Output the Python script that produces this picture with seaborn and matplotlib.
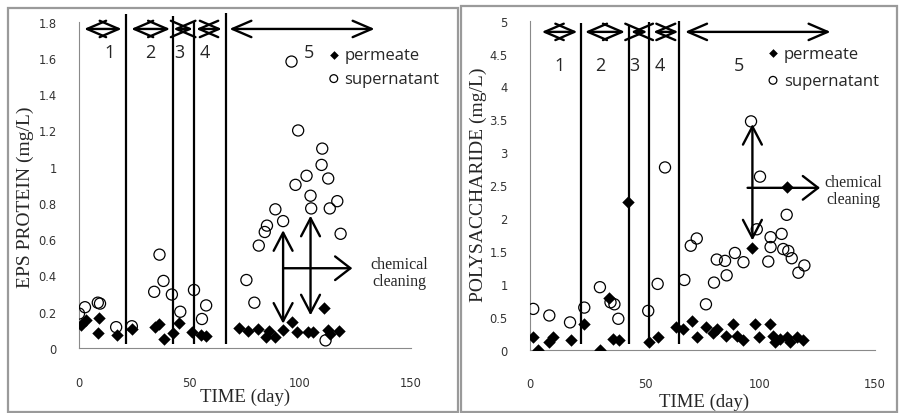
import matplotlib
matplotlib.use('Agg')
import matplotlib.pyplot as plt
import seaborn as sns
import pandas as pd
from matplotlib.patches import Rectangle

# ---------------- data ----------------
# EPS protein (left panel)
prot_perm_t = [0.9, 3.2, 8.5, 9.2, 17.4, 23.9, 34.5, 36.0, 38.6, 42.6, 45.2, 51.3, 55.0, 57.6,
               72.3, 76.3, 80.8, 84.6, 85.8, 88.7, 92.3, 96.5, 98.6, 103.4, 105.6, 110.8, 112.5,
               113.7, 117.8]
prot_perm_v = [0.128, 0.155, 0.08, 0.165, 0.071, 0.105, 0.115, 0.13, 0.05, 0.08, 0.136, 0.089, 0.074,
               0.068, 0.11, 0.095, 0.105, 0.06, 0.095, 0.062, 0.1, 0.141, 0.091, 0.091, 0.089, 0.218,
               0.098, 0.076, 0.095]
prot_sup_t = [0.0, 2.7, 8.5, 9.5, 16.8, 23.9, 34.0, 36.4, 38.2, 42.0, 45.8, 52.0, 55.6, 57.5,
              75.7, 79.3, 81.3, 84.0, 85.0, 88.8, 92.3, 96.1, 99.1, 97.9, 102.9, 104.7, 105.0,
              109.7, 110.0, 112.7, 113.4, 116.8, 118.3, 111.5]
prot_sup_v = [0.19, 0.225, 0.25, 0.245, 0.115, 0.12, 0.31, 0.515, 0.37, 0.295, 0.2, 0.32, 0.16, 0.235,
              0.375, 0.25, 0.565, 0.64, 0.675, 0.765, 0.7, 1.58, 1.2, 0.9, 0.95, 0.84, 0.77,
              1.01, 1.1, 0.935, 0.77, 0.81, 0.63, 0.042]

# Polysaccharide (right panel)
poly_perm_t = [1.4, 3.3, 8.4, 9.9, 17.7, 23.6, 30.4, 34.5, 36.2, 38.7, 42.8, 51.7, 55.5, 63.5,
               66.4, 70.6, 72.8, 76.5, 79.7, 81.4, 85.2, 88.4, 89.9, 92.5, 96.4, 97.8, 99.7,
               104.3, 105.5, 106.5, 108.7, 111.6, 111.6, 113.0, 116.2, 118.8]
poly_perm_v = [0.19, 0.0, 0.11, 0.2, 0.15, 0.39, 0.0, 0.78, 0.16, 0.14, 2.24, 0.12, 0.2, 0.34,
               0.31, 0.43, 0.19, 0.34, 0.26, 0.32, 0.21, 0.39, 0.21, 0.15, 1.54, 0.39, 0.2,
               0.39, 0.21, 0.11, 0.16, 0.2, 2.48, 0.11, 0.2, 0.15]
poly_sup_t = [1.4, 8.4, 17.4, 23.6, 30.4, 35.0, 36.7, 38.4, 51.4, 55.5, 58.7, 67.1, 69.9, 72.5,
              76.5, 80.0, 81.2, 84.8, 85.5, 89.1, 92.8, 96.1, 100.0, 98.6, 103.6, 104.6, 104.6,
              109.4, 111.6, 110.1, 112.3, 113.8, 116.7, 119.3]
poly_sup_v = [0.62, 0.52, 0.415, 0.64, 0.95, 0.72, 0.69, 0.47, 0.59, 1.0, 2.77, 1.06, 1.58, 1.69,
              0.69, 1.02, 1.37, 1.35, 1.13, 1.47, 1.33, 3.47, 2.63, 1.83, 1.34, 1.71, 1.56,
              1.76, 2.05, 1.53, 1.5, 1.39, 1.17, 1.28]

# stage boundaries and stage arrows
prot_bounds = [21.1, 42.7, 52.1, 66.5]
prot_bound_tops = [1.84, 1.83, 1.80, 1.85]
prot_stage_spans = [(2.3, 19.3), (23.6, 41.2), (42.7, 51.5), (53.0, 64.6), (68.0, 133.7)]
prot_stage_labels = ['1', '2', '3', '4', '5']
prot_stage_label_x = [14.0, 32.0, 45.5, 57.0, 104.0]

poly_bounds = [22.2, 43.0, 51.9, 64.9]
poly_bound_tops = [4.97, 4.93, 4.98, 5.0]
poly_stage_spans = [(5.1, 20.6), (23.9, 41.3), (43.9, 51.0), (53.6, 64.5), (67.4, 130.7)]
poly_stage_labels = ['1', '2', '3', '4', '5']
poly_stage_label_x = [13.0, 30.4, 45.4, 56.5, 91.0]

x_ticks = [0, 50, 100, 150]
prot_y_ticks = [0, 0.2, 0.4, 0.6, 0.8, 1.0, 1.2, 1.4, 1.6, 1.8]
poly_y_ticks = [0, 0.5, 1.0, 1.5, 2.0, 2.5, 3.0, 3.5, 4.0, 4.5, 5.0]

# ---------------- style ----------------
sns.set_style('white')
plt.rcParams['font.family'] = ['DejaVu Sans']
SERIF = 'Liberation Serif'
SANS = 'Open Sans'

fig = plt.figure(figsize=(8.99, 4.14), dpi=100)
fig.patch.set_facecolor('white')

# panel frames
fig.patches.append(Rectangle((8 / 899, 1 / 414), 450 / 899, 404 / 414, transform=fig.transFigure,
                             fill=False, edgecolor='#9a9a9a', lw=1.6, zorder=0))
fig.patches.append(Rectangle((461 / 899, 1 / 414), 436 / 899, 406 / 414, transform=fig.transFigure,
                             fill=False, edgecolor='#9a9a9a', lw=1.6, zorder=0))

axL = fig.add_axes([79 / 899, (414 - 349) / 414, 331.7 / 899, 326.3 / 414])
axR = fig.add_axes([530 / 899, (414 - 350.7) / 414, 345 / 899, 329 / 414])

stage_style = '<->,head_length=13.7,head_width=5.9'
vert_style = '<->,head_length=13,head_width=6.8'
one_style = '->,head_length=11,head_width=8.5'


def dbl_arrow(ax, p0, p1, style):
    ax.annotate('', xy=p1, xytext=p0,
                arrowprops=dict(arrowstyle=style, mutation_scale=1, lw=1.7, color='black',
                                shrinkA=0, shrinkB=0),
                annotation_clip=False)


def panel(ax, perm_t, perm_v, sup_t, sup_v, ymax, yticks, ylabel,
          bounds, tops, bottom, spans, arrow_y, labels, label_x, label_y,
          leg_anchor, leg_spacing, ylab_pos, xlab_pos):
    sns.scatterplot(x=perm_t, y=perm_v, ax=ax, marker='D', s=40, color='black', linewidth=0,
                    label='permeate', zorder=3)
    sns.scatterplot(x=sup_t, y=sup_v, ax=ax, marker='o', s=64, facecolor='none',
                    edgecolor='black', linewidth=0.9, label='supernatant', zorder=4)
    ax.set_xlim(0, 150)
    ax.set_ylim(0, ymax)
    ax.set_xticks(x_ticks)
    ax.set_yticks(yticks)
    ax.set_yticklabels([f'{v:g}' for v in yticks])
    ax.tick_params(length=0, labelsize=8.3, labelcolor='#333333')
    ax.tick_params(axis='x', pad=20)
    ax.tick_params(axis='y', pad=16)
    for s in ['top', 'right']:
        ax.spines[s].set_visible(False)
    for s in ['left', 'bottom']:
        ax.spines[s].set_color('#8a8a8a')
        ax.spines[s].set_linewidth(0.8)
    ax.set_xlabel('')
    ax.set_ylabel('')
    ax.text(ylab_pos[0], ylab_pos[1], ylabel, transform=ax.transAxes, rotation=90,
            ha='center', va='center', family=SERIF, fontsize=14)
    ax.text(xlab_pos[0], xlab_pos[1], 'TIME (day)', transform=ax.transAxes,
            ha='center', va='center', family=SERIF, fontsize=13.5)
    ax.vlines(bounds, bottom, tops, colors='black', lw=1.6, clip_on=False, zorder=2)
    for (x0, x1) in spans:
        dbl_arrow(ax, (x0, arrow_y), (x1, arrow_y), stage_style)
    for lab, lx in zip(labels, label_x):
        ax.text(lx, label_y, lab, ha='center', va='center', family=SANS, fontsize=13)
    h, l = ax.get_legend_handles_labels()
    ax.legend(h, l, loc='upper left', bbox_to_anchor=leg_anchor, frameon=False, borderpad=0,
              borderaxespad=0, handlelength=0.8, handletextpad=0.25, labelspacing=leg_spacing,
              markerscale=0.7, prop={'family': SANS, 'size': 12})


panel(axL, prot_perm_t, prot_perm_v, prot_sup_t, prot_sup_v, 1.8, prot_y_ticks,
      'EPS PROTEIN (mg/L)', prot_bounds, prot_bound_tops, 0.02, prot_stage_spans, 1.76,
      prot_stage_labels, prot_stage_label_x, 1.635, (0.748, 0.921), 0.45,
      (-0.163, 0.466), (0.5, -0.147))

panel(axR, poly_perm_t, poly_perm_v, poly_sup_t, poly_sup_v, 5.0, poly_y_ticks,
      'POLYSACCHARIDE (mg/L)', poly_bounds, poly_bound_tops, 0.085, poly_stage_spans, 4.83,
      poly_stage_labels, poly_stage_label_x, 4.33, (0.685, 0.924), 0.66,
      (-0.151, 0.504), (0.504, -0.156))

# chemical cleaning annotations
dbl_arrow(axL, (92.3, 0.134), (92.3, 0.65), vert_style)
dbl_arrow(axL, (104.7, 0.18), (104.7, 0.73), vert_style)
dbl_arrow(axL, (92.3, 0.44), (123.6, 0.44), one_style)
axL.text(144.7, 0.416, 'chemical\ncleaning', ha='center', va='center', family=SERIF,
         fontsize=11.5, linespacing=1.1)

dbl_arrow(axR, (96.7, 1.66), (96.7, 3.43), vert_style)
dbl_arrow(axR, (94.6, 2.46), (126.1, 2.46), one_style)
axR.text(140.6, 2.42, 'chemical\ncleaning', ha='center', va='center', family=SERIF,
         fontsize=11.5, linespacing=1.1)

fig.savefig('out.png', dpi=100, facecolor='white')
